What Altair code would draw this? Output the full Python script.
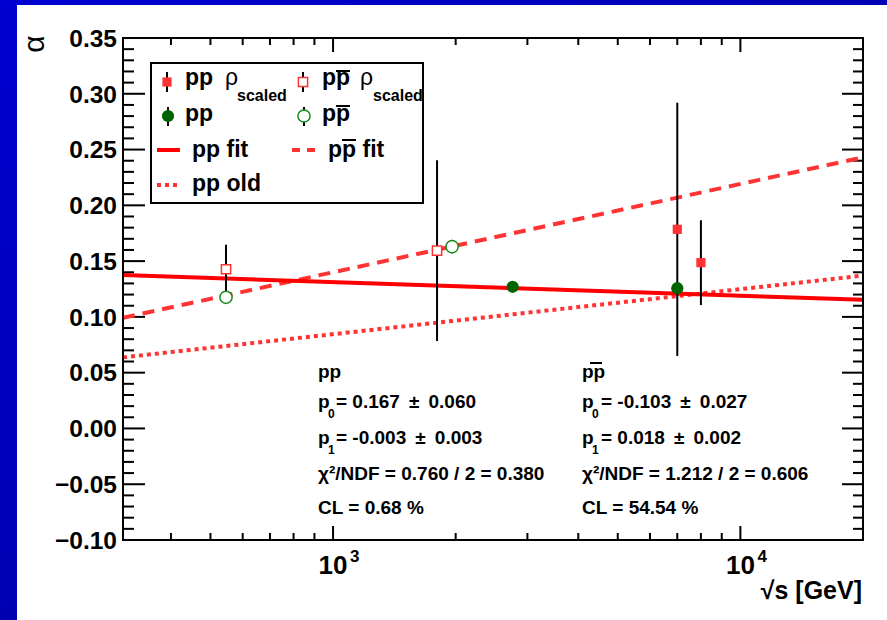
import altair as alt
import pandas as pd

# ---------------- data ----------------
pp_rho_x = [7000, 8000]
pp_rho_y = [0.1785, 0.1486]
pp_rho_err = [0.1135, 0.038]

ppbar_rho_x = [546, 1800]
ppbar_rho_y = [0.1427, 0.1594]
ppbar_rho_err = [0.022, 0.081]

pp_x = [2760, 7000]
pp_y = [0.127, 0.1257]
pp_err = [0.004, 0.005]

ppbar_x = [546, 1960]
ppbar_y = [0.1176, 0.163]
ppbar_err = [0.004, 0.006]

fit_x = [305, 20000]
pp_fit_y = [0.1375, 0.1153]
ppbar_fit_y = [0.0992, 0.243]
pp_old_y = [0.0637, 0.137]

y_major = [-0.10, -0.05, 0.00, 0.05, 0.10, 0.15, 0.20, 0.25, 0.30, 0.35]
y_minor = [round(-0.10 + 0.01 * i, 2) for i in range(46) if i % 5 != 0]
x_major = [1000, 10000]
x_major_exp = ["3", "4"]
x_minor = [400, 500, 600, 700, 800, 900,
           2000, 3000, 4000, 5000, 6000, 7000, 8000, 9000]

stats_pp = ["= 0.167 \u2009± \u20090.060", "= -0.003 \u2009± \u20090.003",
            "χ²/NDF = 0.760 / 2 = 0.380", "CL = 0.68 %"]
stats_ppbar = ["= -0.103 \u2009± \u20090.027", "= 0.018 \u2009± \u20090.002",
               "χ²/NDF = 1.212 / 2 = 0.606", "CL = 54.54 %"]

# ---------------- layout ----------------
W, H = 740, 502
OX, OY = 123, 38          # page position of plot origin
FONT = "Liberation Sans"
RED = "#ff0000"
RED2 = "#ff3333"
GREEN = "#006400"

xs = alt.Scale(type="log", domain=[305, 20000], nice=False)
ys = alt.Scale(domain=[-0.10, 0.35], nice=False, zero=False)

dummy = pd.DataFrame({"d": [0]})


def X(field):
    return alt.X(field, type="quantitative", scale=xs, axis=None)


def Y(field):
    return alt.Y(field, type="quantitative", scale=ys, axis=None)


def txt(s, x, y, size=22, weight="bold", align="left", **kw):
    return alt.Chart(dummy).mark_text(
        text=s, align=align, baseline="alphabetic", font=FONT,
        fontSize=size, fontWeight=weight, color="black", **kw
    ).encode(x=alt.value(x - OX), y=alt.value(y - OY))


def hrule(x1, x2, y, **kw):
    return alt.Chart(dummy).mark_rule(**kw).encode(
        x=alt.value(x1 - OX), x2=alt.value(x2 - OX), y=alt.value(y - OY))


def vrule(x, y1, y2, **kw):
    return alt.Chart(dummy).mark_rule(**kw).encode(
        x=alt.value(x - OX), y=alt.value(y1 - OY), y2=alt.value(y2 - OY))


def sym(x, y, **kw):
    return alt.Chart(dummy).mark_point(opacity=1, **kw).encode(
        x=alt.value(x - OX), y=alt.value(y - OY))


layers = []

# slide background
grad = alt.Gradient(
    gradient="linear",
    stops=[alt.GradientStop(color="#0000d2", offset=0),
           alt.GradientStop(color="#000094", offset=1)],
    x1=0, y1=0, x2=1, y2=1)
layers.append(alt.Chart(dummy).mark_rect(color=grad).encode(
    x=alt.value(-OX), x2=alt.value(887 - OX),
    y=alt.value(-OY), y2=alt.value(620 - OY)))
layers.append(alt.Chart(dummy).mark_rect(color="white").encode(
    x=alt.value(17 - OX), x2=alt.value(887 - OX),
    y=alt.value(5 - OY), y2=alt.value(620 - OY)))

# ---------------- ticks ----------------
dy_major = pd.DataFrame({"v": y_major})
dy_minor = pd.DataFrame({"v": y_minor})
dx_major = pd.DataFrame({"v": x_major, "e": x_major_exp})
dx_minor = pd.DataFrame({"v": x_minor})

tk = dict(color="black", strokeWidth=2)
layers += [
    alt.Chart(dy_major).mark_rule(**tk).encode(y=Y("v"), x=alt.value(0), x2=alt.value(22)),
    alt.Chart(dy_minor).mark_rule(**tk).encode(y=Y("v"), x=alt.value(0), x2=alt.value(11)),
    alt.Chart(dy_major).mark_rule(**tk).encode(y=Y("v"), x=alt.value(W), x2=alt.value(W - 21)),
    alt.Chart(dy_minor).mark_rule(**tk).encode(y=Y("v"), x=alt.value(W), x2=alt.value(W - 10)),
    alt.Chart(dx_major).mark_rule(**tk).encode(x=X("v"), y=alt.value(H), y2=alt.value(H - 14)),
    alt.Chart(dx_minor).mark_rule(**tk).encode(x=X("v"), y=alt.value(H), y2=alt.value(H - 7)),
    alt.Chart(dx_major).mark_rule(**tk).encode(x=X("v"), y=alt.value(0), y2=alt.value(14)),
    alt.Chart(dx_minor).mark_rule(**tk).encode(x=X("v"), y=alt.value(0), y2=alt.value(7)),
]

# tick labels
layers.append(alt.Chart(dy_major).mark_text(
    align="right", baseline="alphabetic", dy=8.8, font=FONT, fontSize=24.5,
    fontWeight="bold", color="black").encode(
    y=Y("v"), x=alt.value(-6), text=alt.Text("v:Q", format=".2f")))
layers.append(alt.Chart(dx_major).mark_text(
    text="10", align="center", baseline="alphabetic", font=FONT, fontSize=26,
    fontWeight="bold", color="black").encode(x=X("v"), y=alt.value(574 - OY)))
layers.append(alt.Chart(dx_major).mark_text(
    align="left", baseline="alphabetic", dx=17, font=FONT, fontSize=17,
    fontWeight="bold", color="black").encode(x=X("v"), y=alt.value(562 - OY), text="e:N"))

# axis titles
layers.append(txt("√s [GeV]", 862, 599, size=25, align="right"))
layers.append(alt.Chart(dummy).mark_text(
    text="α", align="center", baseline="middle", angle=270, font=FONT,
    fontSize=30, color="black").encode(x=alt.value(35 - OX), y=alt.value(44 - OY)))

# ---------------- fit lines ----------------
lines = pd.DataFrame({"x": fit_x, "pp": pp_fit_y, "ppbar": ppbar_fit_y, "old": pp_old_y})
layers += [
    alt.Chart(lines).mark_line(color=RED2, strokeWidth=4, strokeDash=[4, 4]).encode(x=X("x"), y=Y("old")),
    alt.Chart(lines).mark_line(color=RED2, strokeWidth=4, strokeDash=[12, 8]).encode(x=X("x"), y=Y("ppbar")),
    alt.Chart(lines).mark_line(color=RED, strokeWidth=4).encode(x=X("x"), y=Y("pp")),
]


# ---------------- data points ----------------
def series(xv, yv, ev):
    df = pd.DataFrame({"x": xv, "y": yv, "e": ev})
    df["lo"] = df["y"] - df["e"]
    df["hi"] = df["y"] + df["e"]
    return df


s_pp_rho = series(pp_rho_x, pp_rho_y, pp_rho_err)
s_ppbar_rho = series(ppbar_rho_x, ppbar_rho_y, ppbar_rho_err)
s_pp = series(pp_x, pp_y, pp_err)
s_ppbar = series(ppbar_x, ppbar_y, ppbar_err)

for s in (s_ppbar_rho, s_ppbar, s_pp, s_pp_rho):
    layers.append(alt.Chart(s).mark_rule(color="black", strokeWidth=2).encode(
        x=X("x"), y=Y("lo"), y2="hi"))

layers += [
    alt.Chart(s_ppbar_rho).mark_point(shape="square", filled=True, fill="white", stroke=RED2,
                                      strokeWidth=1.5, size=85, opacity=1).encode(x=X("x"), y=Y("y")),
    alt.Chart(s_ppbar).mark_point(shape="circle", filled=True, fill="white", stroke="#1a8a1a",
                                  strokeWidth=1.5, size=150, opacity=1).encode(x=X("x"), y=Y("y")),
    alt.Chart(s_pp).mark_point(shape="circle", filled=True, color=GREEN, size=150,
                               opacity=1).encode(x=X("x"), y=Y("y")),
    alt.Chart(s_pp_rho).mark_point(shape="square", filled=True, color=RED2, size=85,
                                   opacity=1).encode(x=X("x"), y=Y("y")),
]

# ---------------- legend ----------------
layers.append(alt.Chart(dummy).mark_rect(fill="white", stroke="black", strokeWidth=2).encode(
    x=alt.value(151 - OX), x2=alt.value(423 - OX), y=alt.value(63 - OY), y2=alt.value(203 - OY)))
LS = 23
# row 1
layers += [
    vrule(167, 72, 92, color="black", strokeWidth=2),
    sym(167, 82, shape="square", filled=True, color=RED2, size=85),
    txt("pp", 185, 85, size=LS), txt("ρ", 225, 85, size=LS, weight="normal"),
    txt("scaled", 237, 101, size=16),
    vrule(303, 72, 92, color="black", strokeWidth=2),
    sym(303, 82, shape="square", filled=True, fill="white", stroke=RED2, strokeWidth=1.5, size=85),
    txt("pp", 322, 85, size=LS), hrule(336, 350, 71, color="black", strokeWidth=2),
    txt("ρ", 360, 85, size=LS, weight="normal"), txt("scaled", 373, 101, size=16),
]
# row 2
layers += [
    vrule(168, 107, 126, color="black", strokeWidth=2),
    sym(168, 116, shape="circle", filled=True, color=GREEN, size=150),
    txt("pp", 185, 121, size=LS),
    vrule(304, 107, 126, color="black", strokeWidth=2),
    sym(304, 116, shape="circle", filled=True, fill="white", stroke="#1a8a1a", strokeWidth=1.5, size=150),
    txt("pp", 322, 121, size=LS), hrule(336, 350, 106, color="black", strokeWidth=2),
]
# row 3 / 4
layers += [
    hrule(157, 180, 150, color=RED, strokeWidth=4),
    txt("pp fit", 192, 157, size=LS),
    hrule(292, 316, 150, color=RED2, strokeWidth=4, strokeDash=[8, 7]),
    txt("pp fit", 328, 157, size=LS), hrule(342, 356, 140, color="black", strokeWidth=2),
    hrule(157, 180, 185, color=RED2, strokeWidth=4, strokeDash=[4, 4]),
    txt("pp old", 192, 191, size=LS),
]

# ---------------- fit statistics ----------------
SZ = 19
rows_y = [408, 444, 480, 514]
layers += [txt("pp", 318, 378, size=SZ), txt("pp", 582, 378, size=SZ),
           hrule(590, 602, 363, color="black", strokeWidth=2)]
for col_x, eq_x, stats in ((318, 336, stats_pp), (582, 601, stats_ppbar)):
    layers += [
        txt("p", col_x, rows_y[0], size=SZ), txt("0", col_x + 10, 418, size=12),
        txt(stats[0], eq_x, rows_y[0], size=SZ),
        txt("p", col_x, rows_y[1], size=SZ), txt("1", col_x + 10, 454, size=12),
        txt(stats[1], eq_x, rows_y[1], size=SZ),
        txt(stats[2], col_x, rows_y[2], size=SZ),
        txt(stats[3], col_x, rows_y[3], size=SZ),
    ]

# frame on top
layers.append(alt.Chart(dummy).mark_rect(filled=False, stroke="black", strokeWidth=2).encode(
    x=alt.value(0), x2=alt.value(W), y=alt.value(0), y2=alt.value(H)))

chart = alt.layer(*layers).properties(
    width=W, height=H,
    padding={"left": OX, "top": OY, "right": 887 - OX - W, "bottom": 620 - OY - H},
    autosize=alt.AutoSizeParams(type="none"),
    background="white",
).configure_view(strokeWidth=0)

chart.save("out.html", embed_options={"renderer": "svg", "actions": False})
